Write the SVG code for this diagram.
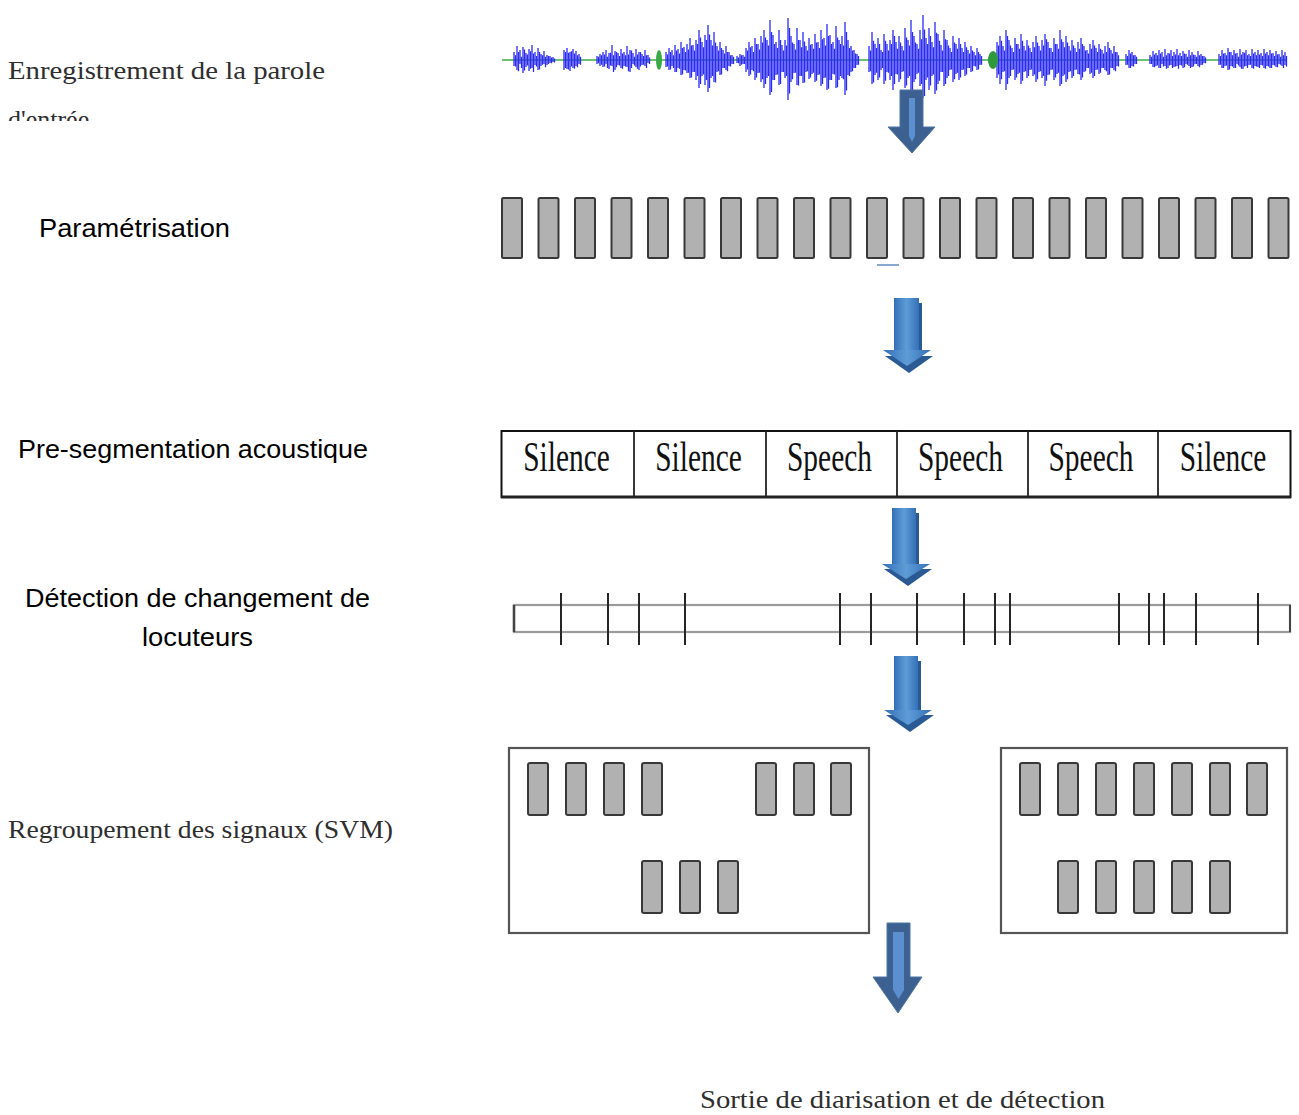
<svg xmlns="http://www.w3.org/2000/svg" xmlns:xlink="http://www.w3.org/1999/xlink" width="1299" height="1115" viewBox="0 0 1299 1115">
<style>
.serif{font-family:"Liberation Serif","Times New Roman",serif;font-size:26px;fill:#2e2e2e}
.sans{font-family:"Liberation Sans",Arial,sans-serif;font-size:26px;fill:#000}
.cell{font-family:"Liberation Serif","Times New Roman",serif;font-size:43px;fill:#111;text-anchor:middle}
.bar{fill:#b1b1b1;stroke:#383838;stroke-width:2}
.wave{fill:none;stroke:#2b2bf5;stroke-width:1.3}
.tick{stroke:#262626;stroke-width:2}
.box{fill:#fff;stroke:#555;stroke-width:2.2}
.arA{fill:#3c6191;stroke:#4d74a5;stroke-width:1}
.arAin{fill:#5b8fd0}
.shadow{fill:#2a5a94}
</style>
<defs>
<linearGradient id="gB" x1="0" y1="0" x2="1" y2="0">
<stop offset="0" stop-color="#3470b7"/>
<stop offset="0.5" stop-color="#5e9cd7"/>
<stop offset="1" stop-color="#3470b7"/>
</linearGradient>
<clipPath id="clipEntree"><rect x="0" y="95" width="300" height="26"/></clipPath>
</defs>
<rect width="1299" height="1115" fill="#fff"/>

<g id="stage-enregistrement">
<text class="serif" x="8" y="79" textLength="317" lengthAdjust="spacingAndGlyphs">Enregistrement de la parole</text>
<text class="serif" x="8" y="128" clip-path="url(#clipEntree)">d'entrée</text>
<line x1="502" y1="60" x2="1287" y2="60" stroke="#3cae45" stroke-width="1.5"/>
<path id="wave" class="wave" d="M514 52V66M517 46V70M520 50V64M523 47V73M526 53V67M529 49V71M532 45V68M535 52V65M538 48V70M541 54V66M544 51V64M547 55V65M550 56V63M553 57V62M564 50V70M567 48V69M570 52V71M573 49V68M576 51V66M579 54V64M597 56V64M600 54V66M603 52V67M606 50V64M609 53V69M612 45V66M615 51V70M618 53V65M621 49V68M624 52V66M627 46V67M630 50V72M633 53V64M636 49V67M639 52V70M642 54V65M645 50V66M648 55V63M666 52V67M669 48V70M672 50V66M675 45V72M678 49V68M681 42V75M684 47V70M687 44V73M690 38V78M693 45V72M696 40V80M699 30V88M702 42V76M705 35V85M708 25V92M711 40V78M714 32V82M717 46V72M720 42V75M723 50V68M726 46V70M729 52V66M732 55V64M737 56V63M740 54V66M743 55V64M746 48V72M749 42V76M752 46V70M755 38V80M758 44V73M761 36V82M764 30V88M767 40V78M770 20V95M773 35V80M776 42V75M779 30V85M782 45V72M785 40V78M788 18V100M791 36V82M794 44V73M797 28V85M800 40V76M803 32V83M806 46V72M809 38V79M812 44V74M815 34V82M818 42V75M821 30V86M824 38V78M827 24V90M830 35V80M833 42V74M836 26V88M839 40V80M842 36V78M845 22V95M848 40V75M851 46V72M854 50V68M857 54V65M869 46V72M872 32V84M875 44V75M878 38V80M881 50V70M884 34V84M887 44V72M890 40V80M893 30V90M896 42V74M899 36V82M902 46V72M905 28V88M908 40V78M911 20V95M914 36V82M917 44V74M920 30V86M923 15V98M926 38V80M929 28V90M932 42V76M935 22V94M938 34V84M941 45V72M944 30V86M947 40V78M950 48V70M953 36V82M956 44V74M959 38V80M962 48V70M965 42V76M968 50V68M971 46V72M974 52V66M977 48V70M980 54V65M997 42V78M1000 36V84M1003 46V72M1006 30V90M1009 40V78M1012 48V70M1015 38V80M1018 44V74M1021 34V84M1024 46V72M1027 40V78M1030 48V70M1033 42V76M1036 36V82M1039 46V72M1042 40V78M1045 34V86M1048 42V75M1051 48V70M1054 38V80M1057 44V74M1060 30V86M1063 42V76M1066 36V82M1069 46V72M1072 40V78M1075 48V70M1078 42V74M1081 38V80M1084 46V72M1087 50V68M1090 44V74M1093 40V78M1096 48V70M1099 44V74M1102 50V68M1105 46V70M1108 42V75M1111 50V68M1114 46V70M1117 52V66M1126 54V65M1129 50V68M1132 52V66M1135 55V64M1150 55V64M1153 51V67M1156 53V66M1159 50V68M1162 52V64M1165 49V66M1168 53V68M1171 50V65M1174 52V67M1177 49V66M1180 53V65M1183 51V68M1186 54V64M1189 50V66M1192 52V67M1195 55V64M1198 51V66M1201 54V65M1204 56V63M1219 54V65M1222 50V68M1225 53V66M1228 48V70M1231 52V66M1234 50V68M1237 53V64M1240 49V67M1243 52V69M1246 50V66M1249 54V65M1252 49V68M1255 52V66M1258 50V67M1261 53V65M1264 49V68M1267 52V66M1270 50V68M1273 53V65M1276 51V67M1279 54V64M1282 50V66M1285 52V65"/>
<use xlink:href="#wave" href="#wave" transform="matrix(1 0 0 -0.8 1.5 108)" stroke-width="0.8"/>
<ellipse cx="659" cy="60" rx="3" ry="10" fill="#3aa845"/>
<ellipse cx="993" cy="60" rx="5" ry="9" fill="#2f9a3c"/>
</g>

<g id="stage-parametrisation">
<text class="sans" x="39" y="237" textLength="191" lengthAdjust="spacingAndGlyphs">Paramétrisation</text>
<rect class="bar" x="502" y="198" width="20" height="60" rx="1.5"/>
<rect class="bar" x="538.5" y="198" width="20" height="60" rx="1.5"/>
<rect class="bar" x="575" y="198" width="20" height="60" rx="1.5"/>
<rect class="bar" x="611.5" y="198" width="20" height="60" rx="1.5"/>
<rect class="bar" x="648" y="198" width="20" height="60" rx="1.5"/>
<rect class="bar" x="684.5" y="198" width="20" height="60" rx="1.5"/>
<rect class="bar" x="721" y="198" width="20" height="60" rx="1.5"/>
<rect class="bar" x="757.5" y="198" width="20" height="60" rx="1.5"/>
<rect class="bar" x="794" y="198" width="20" height="60" rx="1.5"/>
<rect class="bar" x="830.5" y="198" width="20" height="60" rx="1.5"/>
<rect class="bar" x="867" y="198" width="20" height="60" rx="1.5"/>
<rect class="bar" x="903.5" y="198" width="20" height="60" rx="1.5"/>
<rect class="bar" x="940" y="198" width="20" height="60" rx="1.5"/>
<rect class="bar" x="976.5" y="198" width="20" height="60" rx="1.5"/>
<rect class="bar" x="1013" y="198" width="20" height="60" rx="1.5"/>
<rect class="bar" x="1049.5" y="198" width="20" height="60" rx="1.5"/>
<rect class="bar" x="1086" y="198" width="20" height="60" rx="1.5"/>
<rect class="bar" x="1122.5" y="198" width="20" height="60" rx="1.5"/>
<rect class="bar" x="1159" y="198" width="20" height="60" rx="1.5"/>
<rect class="bar" x="1195.5" y="198" width="20" height="60" rx="1.5"/>
<rect class="bar" x="1232" y="198" width="20" height="60" rx="1.5"/>
<rect class="bar" x="1268.5" y="198" width="20" height="60" rx="1.5"/>
<rect x="877" y="264" width="22" height="2" fill="#8aa8cf"/>
</g>

<g id="stage-presegmentation">
<text class="sans" x="18" y="458" textLength="350" lengthAdjust="spacingAndGlyphs">Pre-segmentation acoustique</text>
<rect x="501.5" y="431" width="789" height="66" fill="#fff" stroke="#111" stroke-width="2"/>
<line x1="501" y1="497" x2="1291" y2="497" stroke="#222" stroke-width="3"/>
<line x1="634" y1="431" x2="634" y2="497" stroke="#222" stroke-width="1.8"/>
<line x1="766" y1="431" x2="766" y2="497" stroke="#222" stroke-width="1.8"/>
<line x1="897" y1="431" x2="897" y2="497" stroke="#222" stroke-width="1.8"/>
<line x1="1028" y1="431" x2="1028" y2="497" stroke="#222" stroke-width="1.8"/>
<line x1="1158" y1="431" x2="1158" y2="497" stroke="#222" stroke-width="1.8"/>
<text class="cell" transform="translate(566.5 471) scale(0.685 1)">Silence</text>
<text class="cell" transform="translate(698.5 471) scale(0.685 1)">Silence</text>
<text class="cell" transform="translate(829.5 471) scale(0.685 1)">Speech</text>
<text class="cell" transform="translate(960.5 471) scale(0.685 1)">Speech</text>
<text class="cell" transform="translate(1091 471) scale(0.685 1)">Speech</text>
<text class="cell" transform="translate(1223 471) scale(0.685 1)">Silence</text>
</g>

<g id="stage-detection">
<text class="sans" x="25" y="607" textLength="345" lengthAdjust="spacingAndGlyphs">Détection de changement de</text>
<text class="sans" x="142" y="646" textLength="111" lengthAdjust="spacingAndGlyphs">locuteurs</text>
<rect x="514" y="605" width="776" height="27" fill="#fff" stroke="#9a9a9a" stroke-width="2.2"/>
<line x1="514" y1="605" x2="514" y2="632" stroke="#444" stroke-width="2.5"/>
<line x1="1290" y1="605" x2="1290" y2="632" stroke="#444" stroke-width="2"/>
<line class="tick" x1="561" y1="593" x2="561" y2="645"/>
<line class="tick" x1="608" y1="593" x2="608" y2="645"/>
<line class="tick" x1="639" y1="593" x2="639" y2="645"/>
<line class="tick" x1="685" y1="593" x2="685" y2="645"/>
<line class="tick" x1="840" y1="593" x2="840" y2="645"/>
<line class="tick" x1="871" y1="593" x2="871" y2="645"/>
<line class="tick" x1="917" y1="593" x2="917" y2="645"/>
<line class="tick" x1="964" y1="593" x2="964" y2="645"/>
<line class="tick" x1="995" y1="593" x2="995" y2="645"/>
<line class="tick" x1="1010" y1="593" x2="1010" y2="645"/>
<line class="tick" x1="1119" y1="593" x2="1119" y2="645"/>
<line class="tick" x1="1149" y1="593" x2="1149" y2="645"/>
<line class="tick" x1="1164" y1="593" x2="1164" y2="645"/>
<line class="tick" x1="1196" y1="593" x2="1196" y2="645"/>
<line class="tick" x1="1258" y1="593" x2="1258" y2="645"/>
</g>

<g id="stage-regroupement">
<text class="serif" x="8" y="838" textLength="385" lengthAdjust="spacingAndGlyphs">Regroupement des signaux (SVM)</text>
<g id="cluster-1">
<rect class="box" x="509" y="748" width="360" height="185"/>
<rect class="bar" x="528" y="763" width="20" height="52" rx="2"/>
<rect class="bar" x="566" y="763" width="20" height="52" rx="2"/>
<rect class="bar" x="604" y="763" width="20" height="52" rx="2"/>
<rect class="bar" x="642" y="763" width="20" height="52" rx="2"/>
<rect class="bar" x="756" y="763" width="20" height="52" rx="2"/>
<rect class="bar" x="794" y="763" width="20" height="52" rx="2"/>
<rect class="bar" x="831" y="763" width="20" height="52" rx="2"/>
<rect class="bar" x="642" y="861" width="20" height="52" rx="2"/>
<rect class="bar" x="680" y="861" width="20" height="52" rx="2"/>
<rect class="bar" x="718" y="861" width="20" height="52" rx="2"/>
</g>
<g id="cluster-2">
<rect class="box" x="1001" y="748" width="286" height="185"/>
<rect class="bar" x="1020" y="763" width="20" height="52" rx="2"/>
<rect class="bar" x="1058" y="763" width="20" height="52" rx="2"/>
<rect class="bar" x="1096" y="763" width="20" height="52" rx="2"/>
<rect class="bar" x="1134" y="763" width="20" height="52" rx="2"/>
<rect class="bar" x="1172" y="763" width="20" height="52" rx="2"/>
<rect class="bar" x="1210" y="763" width="20" height="52" rx="2"/>
<rect class="bar" x="1247" y="763" width="20" height="52" rx="2"/>
<rect class="bar" x="1058" y="861" width="20" height="52" rx="2"/>
<rect class="bar" x="1096" y="861" width="20" height="52" rx="2"/>
<rect class="bar" x="1134" y="861" width="20" height="52" rx="2"/>
<rect class="bar" x="1172" y="861" width="20" height="52" rx="2"/>
<rect class="bar" x="1210" y="861" width="20" height="52" rx="2"/>
</g>
</g>

<g id="stage-sortie">
<text class="serif" x="700" y="1108" textLength="405" lengthAdjust="spacingAndGlyphs">Sortie de diarisation et de détection</text>
</g>

<g id="connectors">
<g id="arrow-1">
<path class="arA" d="M900 90H923V127H935L912 153L888 127H900Z"/>
<path class="arAin" d="M909 98H915V136L912 142L909 136Z"/>
</g>
<g id="arrow-2">
<rect class="shadow" x="918" y="303" width="4" height="52"/>
<path class="shadow" d="M885 356H933L909 373Z"/>
<rect x="894" y="298" width="25" height="54" fill="url(#gB)"/>
<path d="M883 350H931L907 366Z" fill="url(#gB)"/>
</g>
<g id="arrow-3">
<rect class="shadow" x="915" y="513" width="4" height="56"/>
<path class="shadow" d="M884 569H932L908 586Z"/>
<rect x="892" y="508" width="24" height="57" fill="url(#gB)"/>
<path d="M882 564H930L906 579Z" fill="url(#gB)"/>
</g>
<g id="arrow-4">
<rect class="shadow" x="917" y="661" width="4" height="54"/>
<path class="shadow" d="M886 715H934L910 732Z"/>
<rect x="894" y="656" width="24" height="55" fill="url(#gB)"/>
<path d="M884 710H932L908 725Z" fill="url(#gB)"/>
</g>
<g id="arrow-5">
<path class="arA" d="M887 923H910V977H922L898 1013L873 977H887Z"/>
<path class="arAin" d="M893 932H904V990L898.5 999L893 990Z"/>
</g>
</g>
</svg>
